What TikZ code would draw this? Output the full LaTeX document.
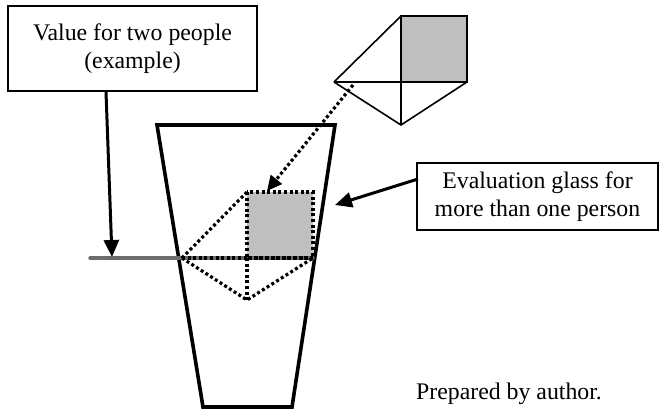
\documentclass[tikz,border=0pt]{standalone}
\usepackage{fontspec}
\setmainfont{Liberation Serif}
\usetikzlibrary{arrows.meta}
\begin{document}
\begin{tikzpicture}[x=1pt,y=-1pt,
  lbl/.style={draw,line width=1.6pt,align=center,inner sep=0pt,font=\fontsize{23.8}{27.5}\selectfont},
  arr/.style={line width=3pt,-{Triangle[length=17pt,width=15pt]}},
  dotarr/.style={line width=3.2pt,dash pattern=on 3pt off 2.6pt,-{Triangle[length=15pt,width=14pt]}},
  thin/.style={line width=1.6pt},
  dots/.style={line width=3.2pt,dash pattern=on 3pt off 2.6pt},
  glassline/.style={line width=3.6pt,line join=miter}
]
\useasboundingbox (0,0) rectangle (661,409);
% glass
\draw[glassline] (157,125) -- (335,125) -- (292,407) -- (203,407) -- cycle;
% labels
\node[lbl,minimum width=249pt,minimum height=85pt] (topbox) at (132.5,48.5) {Value for two people\\(example)};
\node[lbl,minimum width=241pt,minimum height=67pt] (rightbox) at (537.5,196.5) {Evaluation glass for\\more than one person};
\node[anchor=base west,inner sep=0pt,font=\fontsize{23.8}{27.5}\selectfont] (credit) at (416,399) {Prepared by author.};
% top diamond
\coordinate (tL) at (334,82);
\coordinate (tT) at (401,16);
\coordinate (tR) at (467,82);
\coordinate (tB) at (401,125);
\coordinate (tM) at (401,82);
\fill[gray!50] (tT) rectangle (tR);
\draw[thin] (tT) rectangle (tR);
\draw[thin] (tL) -- (tT);
\draw[thin] (tL) -- (tR);
\draw[thin] (tL) -- (tB) -- (tR);
\draw[thin] (tM) -- (tB);
% grey level line
\coordinate (gS) at (90,258);
\coordinate (iL) at (182,258);
\coordinate (iT) at (247,192);
\coordinate (iR) at (313,258);
\coordinate (iB) at (247,300);
\coordinate (iM) at (247,258);
\fill[gray!50] (iT) rectangle (iR);
\draw[line width=3.4pt,gray!85!black,line cap=round] (gS) -- (iR);
% inner dotted diamond
\draw[dots] (iT) rectangle (iR);
\draw[dots] (iL) -- (iT);
\draw[dots] (iL) -- (iR);
\draw[dots] (iL) -- (iB) -- (iR);
\draw[dots] (iM) -- (iB);
% arrows
\coordinate (a1s) at (106,92);
\coordinate (a1e) at (112,257);
\draw[arr] (a1s) -- (a1e);
\coordinate (a2s) at (418,179);
\coordinate (a2e) at (335,205);
\draw[arr] (a2s) -- (a2e);
\coordinate (a3s) at (353,85);
\coordinate (a3e) at (267,191);
\draw[dotarr] (a3s) -- (a3e);
\end{tikzpicture}
\end{document}
